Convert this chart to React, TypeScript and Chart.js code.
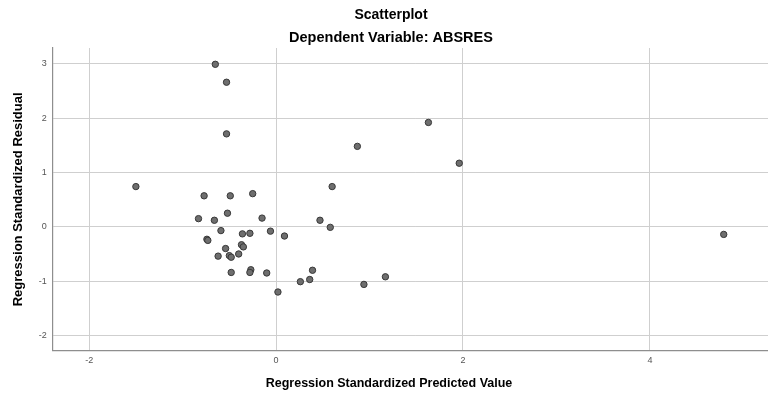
import React, { useEffect, useRef } from "react";
import { Chart, registerables } from "chart.js";

Chart.register(...registerables);

const TITLE = "Scatterplot";
const SUBTITLE = "Dependent Variable: ABSRES";
const X_TITLE = "Regression Standardized Predicted Value";
const Y_TITLE = "Regression Standardized Residual";

const xTicks = [-2, 0, 2, 4];
const yTicks = [-2, -1, 0, 1, 2, 3];

const predicted = [
  -0.65, -0.53, -0.53, -1.5, 1.63, 0.87, 1.96, 0.6, -0.77, -0.49, -0.25,
  -0.83, -0.66, -0.52, -0.15, 0.47, 0.58, -0.59, -0.36, -0.28, -0.06, 0.09,
  -0.74, -0.73, -0.37, -0.35, -0.54, -0.62, -0.5, -0.48, -0.4, -0.48, -0.27,
  -0.28, -0.1, 0.39, 0.26, 0.36, 1.17, 0.94, 0.02, 4.79,
];
const residual = [
  2.99, 2.66, 1.71, 0.74, 1.92, 1.48, 1.17, 0.74, 0.57, 0.57, 0.61, 0.15,
  0.12, 0.25, 0.16, 0.12, -0.01, -0.07, -0.13, -0.12, -0.08, -0.17, -0.23,
  -0.25, -0.33, -0.37, -0.4, -0.54, -0.53, -0.56, -0.5, -0.84, -0.79, -0.84,
  -0.85, -0.8, -1.01, -0.97, -0.92, -1.06, -1.2, -0.14,
];

const FONT = '"Liberation Sans", Arial, sans-serif';

const xTitlePlugin = {
  id: "xTitleCustom",
  afterDraw(chart: any) {
    const ctx = chart.ctx;
    ctx.save();
    ctx.font = `bold 12.5px ${FONT}`;
    ctx.fillStyle = "#000";
    ctx.textAlign = "center";
    ctx.textBaseline = "middle";
    ctx.fillText(X_TITLE, 389, 383.5);
    ctx.restore();
  },
};

export default function App() {
  const ref = useRef<HTMLCanvasElement | null>(null);
  useEffect(() => {
    if (!ref.current) return;
    const data = predicted.map((x, i) => ({ x, y: residual[i] }));
    const chart = new Chart(ref.current, {
      type: "scatter",
      data: {
        datasets: [
          {
            data,
            backgroundColor: "#6e6e6e",
            borderColor: "#383838",
            borderWidth: 1,
            pointRadius: 3.2,
          },
        ],
      },
      plugins: [xTitlePlugin],
      options: {
        animation: false,
        responsive: false,
        devicePixelRatio: 1,
        layout: { padding: 0 },
        plugins: {
          legend: { display: false },
          tooltip: { enabled: false },
          title: {
            display: true,
            text: TITLE,
            color: "#000",
            font: { family: FONT, size: 14, weight: "bold", lineHeight: 1.2 },
            padding: { top: 6.3, bottom: 2 },
          },
          subtitle: {
            display: true,
            text: SUBTITLE,
            color: "#000",
            font: { family: FONT, size: 14.5, weight: "bold", lineHeight: 1.2 },
            padding: { top: 4, bottom: 1.5 },
          },
        },
        scales: {
          x: {
            type: "linear",
            min: -2.39,
            max: 5.36,
            afterBuildTicks: (s: any) => {
              s.ticks = xTicks.map((v) => ({ value: v }));
            },
            afterFit: (s: any) => {
              s.height = 42.3;
            },
            ticks: {
              color: "#555",
              font: { family: FONT, size: 9 },
              padding: 4,
              maxRotation: 0,
              autoSkip: false,
            },
            grid: { color: "#cfcfcf", drawTicks: false, lineWidth: 1 },
            border: { color: "#8e8e8e", width: 1.2 },
          },
          y: {
            type: "linear",
            min: -2.28,
            max: 3.29,
            afterBuildTicks: (s: any) => {
              s.ticks = yTicks.map((v) => ({ value: v }));
            },
            afterFit: (s: any) => {
              s.width = 52.7;
            },
            ticks: {
              color: "#555",
              font: { family: FONT, size: 9 },
              padding: 6,
              autoSkip: false,
            },
            title: {
              display: true,
              text: Y_TITLE,
              color: "#000",
              font: { family: FONT, size: 13, weight: "bold", lineHeight: 1.2 },
              padding: { top: 11, bottom: 0 },
            },
            grid: { color: "#cfcfcf", drawTicks: false, lineWidth: 1 },
            border: { color: "#8e8e8e", width: 1.2 },
          },
        },
      },
    });
    return () => chart.destroy();
  }, []);
  return (
    <div
      style={{
        position: "absolute",
        left: 0,
        top: 0,
        width: 768,
        height: 393,
        overflow: "hidden",
        background: "#fff",
      }}
    >
      <canvas ref={ref} width={782} height={393} style={{ display: "block" }} />
    </div>
  );
}
